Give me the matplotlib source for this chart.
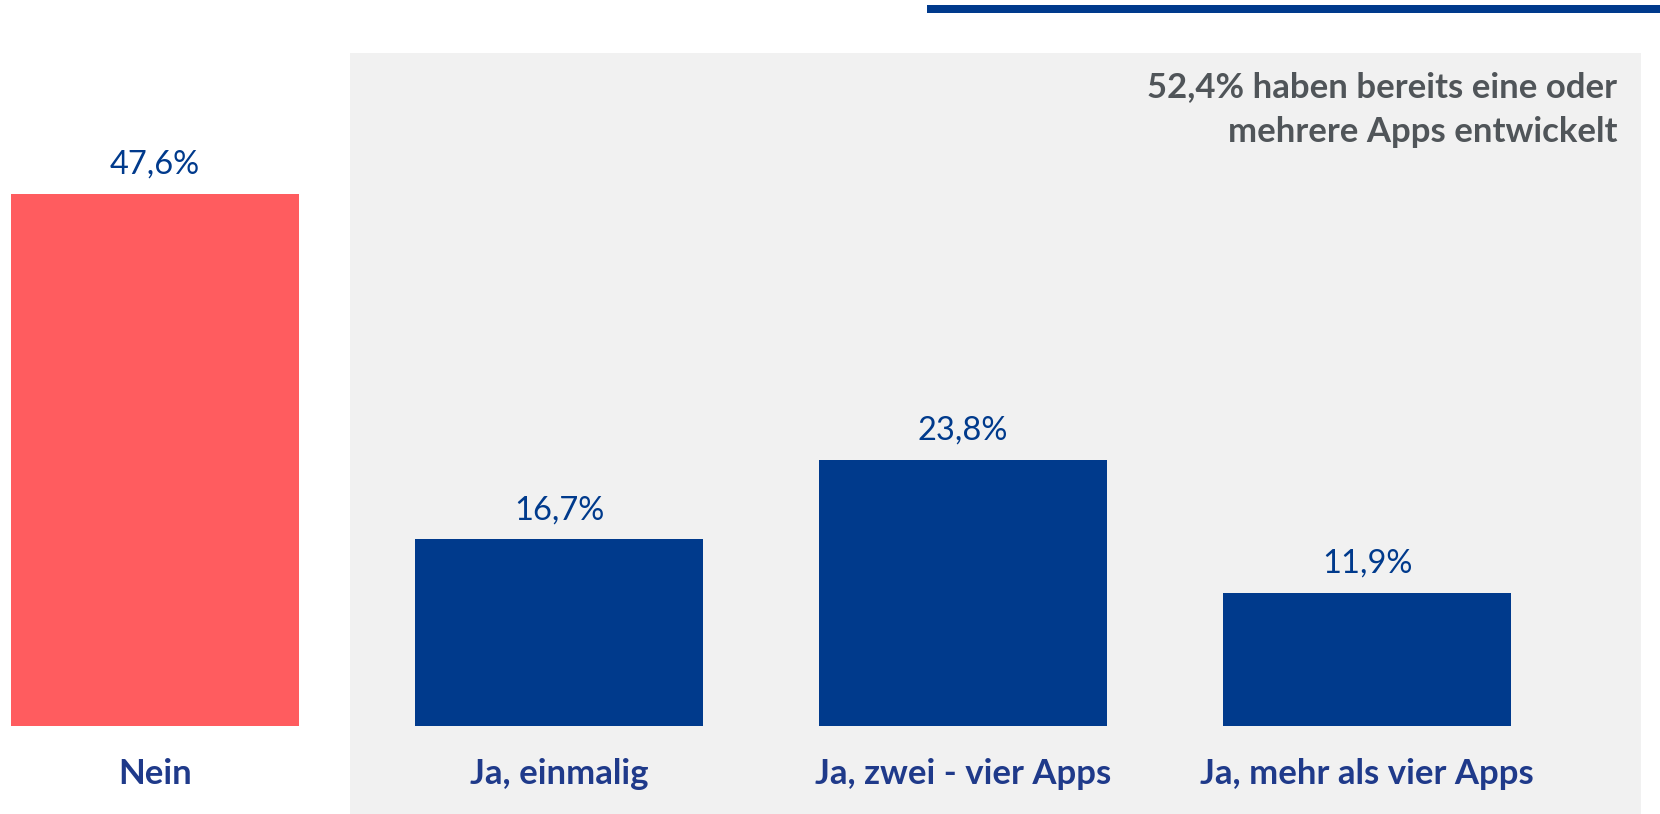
import matplotlib
matplotlib.use("Agg")
import matplotlib.pyplot as plt
from matplotlib.patches import Rectangle
import matplotlib.transforms as mtransforms

# Daten
kategorien = ["Nein", "Ja, einmalig", "Ja, zwei - vier Apps", "Ja, mehr als vier Apps"]
werte = [47.6, 16.7, 23.8, 11.9]
wert_labels = ["47,6%", "16,7%", "23,8%", "11,9%"]
hinweis = ["52,4% haben bereits eine oder", "mehrere Apps entwickelt"]

ROT = "#FF5C5F"
BLAU = "#003A8C"
LABEL_BLAU = "#1F3A8A"
GRAU_TEXT = "#505559"
PANEL = "#F1F1F1"

plt.rcParams["font.family"] = ["Lato", "DejaVu Sans"]

W, H = 1660, 814
fig = plt.figure(figsize=(W / 100, H / 100), dpi=100)

# grauer Hintergrund fuer die "Ja"-Antworten
fig.patches.append(Rectangle((350 / W, 0), (1641 - 350) / W, (H - 53) / H,
                             transform=fig.transFigure, facecolor=PANEL,
                             edgecolor="none", zorder=0))
# Linie oben rechts
fig.patches.append(Rectangle((927 / W, 1 - 13 / H), 1 - 927 / W, 8 / H,
                             transform=fig.transFigure, facecolor=BLAU,
                             edgecolor="none", zorder=0))

ax = fig.add_axes([0, 0, 1, 1])
ax.set_zorder(2)
ax.patch.set_alpha(0)

x = list(range(len(werte)))
farben = [ROT] + [BLAU] * (len(werte) - 1)
bars = ax.bar(x, werte, width=0.713, color=farben, zorder=2)

ax.set_xlim(-155 / 404, (W - 155) / 404)
px = 11.18
ax.set_ylim(-88 / px, (H - 88) / px)
ax.axis("off")

for b, lab in zip(bars, wert_labels):
    ax.annotate(lab, (b.get_x() + b.get_width() / 2, b.get_height()),
                xytext=(0, 29), textcoords="offset pixels",
                ha="center", va="center", fontsize=23.5, color=BLAU)

trans = mtransforms.blended_transform_factory(ax.transData, ax.transAxes)
for xi, k in zip(x, kategorien):
    ax.text(xi, 40 / H, k, transform=trans, ha="center", va="center",
            fontsize=25, fontweight="bold", color=LABEL_BLAU)

fig.text(1617 / W, 1 - 87 / H, hinweis[0], ha="right", va="center",
         fontsize=25, fontweight="bold", color=GRAU_TEXT, zorder=3)
fig.text(1617 / W, 1 - 132 / H, hinweis[1], ha="right", va="center",
         fontsize=25, fontweight="bold", color=GRAU_TEXT, zorder=3)

fig.savefig("out.png", dpi=100)
